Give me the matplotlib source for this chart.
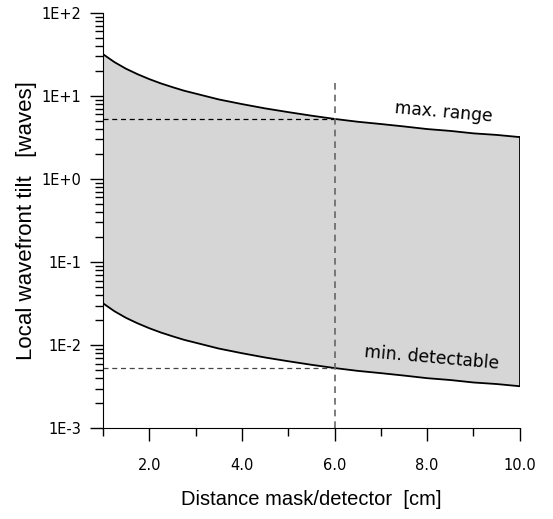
import math
import matplotlib
matplotlib.use('Agg')
from matplotlib import pyplot as plt
from matplotlib.ticker import FixedLocator, FuncFormatter, LogLocator, NullFormatter

plt.rcParams['font.family'] = ['Liberation Sans', 'DejaVu Sans']

# distance mask/detector [cm]
distance = [1.0, 1.25, 1.5, 1.75, 2.0, 2.25, 2.5, 2.75, 3.0, 3.5, 4.0, 4.5,
            5.0, 5.5, 6.0, 6.5, 7.0, 7.5, 8.0, 8.5, 9.0, 9.5, 10.0]
# max. range [waves]
maxRange = [32.0, 25.6, 21.3, 18.3, 16.0, 14.2, 12.8, 11.6, 10.7, 9.1, 8.0,
            7.1, 6.4, 5.8, 5.3, 4.9, 4.6, 4.3, 4.0, 3.8, 3.55, 3.4, 3.2]
# min. detectable [waves]
minDetect = [0.032, 0.0256, 0.0213, 0.0183, 0.016, 0.0142, 0.0128, 0.0116,
             0.0107, 0.0091, 0.008, 0.0071, 0.0064, 0.0058, 0.0053, 0.0049,
             0.0046, 0.0043, 0.004, 0.0038, 0.00355, 0.0034, 0.0032]

markX = 6.0
markHigh = 5.3
markLow = 0.0053
markTop = 15.5

fig = plt.figure(figsize=(5.53, 5.19), dpi=100)
ax = fig.add_axes([0.186, 0.175, 0.754, 0.800])

ax.fill_between(distance, minDetect, maxRange, facecolor='#d6d6d6', edgecolor='none', linewidth=0)
ax.plot(distance, maxRange, color='black', lw=1.3)
ax.plot(distance, minDetect, color='black', lw=1.3)
ax.plot([distance[-1], distance[-1]], [minDetect[-1], maxRange[-1]], color='black', lw=1.3)

ax.plot([distance[0], markX], [markHigh, markHigh], color='black', lw=0.9, dashes=(4, 3))
ax.plot([distance[0], markX], [markLow, markLow], color='#444444', lw=0.9, dashes=(4, 3))
ax.plot([markX, markX], [1e-3, markTop], color='#666666', lw=1.2, dashes=(4, 3))

ax.text(8.35, 6.4, 'max. range', rotation=-5, ha='center', va='center',
        fontsize=12.3, family='DejaVu Sans')
ax.text(8.1, 0.0070, 'min. detectable', rotation=-5, ha='center', va='center',
        fontsize=12.3, family='DejaVu Sans')

ax.set_yscale('log')
ax.set_xlim(1, 10)
ax.set_ylim(1e-3, 1e2)

ax.spines['top'].set_visible(False)
ax.spines['right'].set_visible(False)

ax.xaxis.set_major_locator(FixedLocator([2, 4, 6, 8, 10]))
ax.xaxis.set_minor_locator(FixedLocator([1, 3, 5, 7, 9]))
ax.xaxis.set_major_formatter(FuncFormatter(lambda v, p: '%.1f' % v))
ax.yaxis.set_major_locator(LogLocator(base=10, numticks=10))
ax.yaxis.set_minor_locator(LogLocator(base=10, subs=range(2, 10), numticks=10))
ax.yaxis.set_minor_formatter(NullFormatter())

def fmtExp(v, p):
    e = int(round(math.log10(v)))
    return '1E%s%d' % ('+' if e >= 0 else '-', abs(e))

ax.yaxis.set_major_formatter(FuncFormatter(fmtExp))

ax.tick_params(which='major', length=9.5, width=1, direction='out')
ax.tick_params(axis='y', which='major', pad=6)
ax.tick_params(axis='x', which='major', pad=12)
ax.tick_params(which='minor', length=5.5, width=1, direction='out')
for lab in ax.get_xticklabels() + ax.get_yticklabels():
    lab.set_fontfamily('DejaVu Sans')
    lab.set_fontsize(10.5)

ax.set_xlabel('Distance mask/detector  [cm]', fontsize=14.5, labelpad=12)
ax.set_ylabel('Local wavefront tilt   [waves]', fontsize=16, labelpad=3)

plt.savefig('out.png', dpi=100)
